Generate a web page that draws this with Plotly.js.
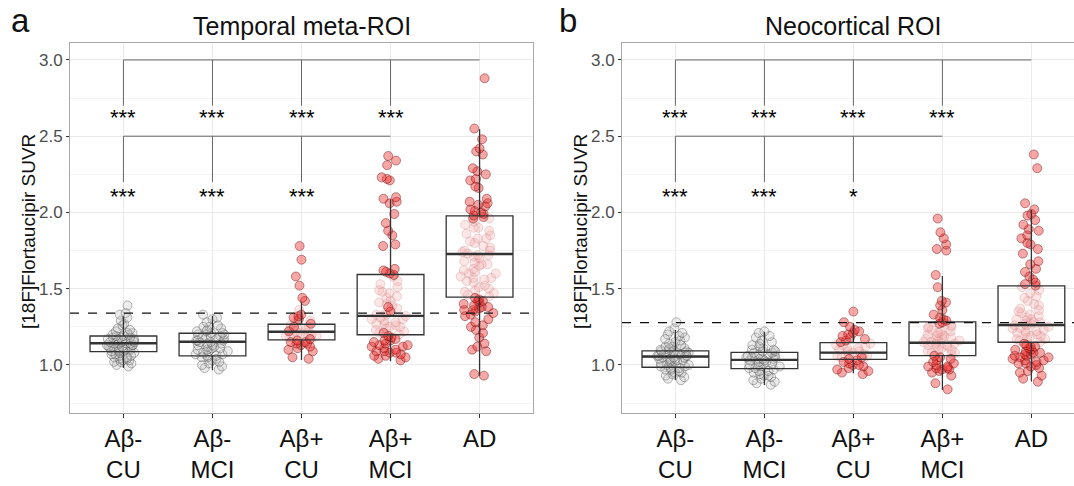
<!DOCTYPE html>
<html>
<head>
<meta charset="utf-8">
<script src="https://cdn.plot.ly/plotly-3.0.1.min.js"></script>
<style>html,body{margin:0;padding:0;background:#fff;}#chart{width:1074px;height:486px;}</style>
</head>
<body>
<div id="chart"></div>
<script>
// ---------- categories / tick labels ----------
const categories = [1, 2, 3, 4, 5];
const tickLabels = ['Aβ-<br>CU', 'Aβ-<br>MCI', 'Aβ+<br>CU', 'Aβ+<br>MCI', 'AD'];
const panelTitles = ['Temporal meta-ROI', 'Neocortical ROI'];
const panelLetters = ['a', 'b'];
const yTitle = '[18F]Flortaucipir SUVR';
const yTicks = [1.0, 1.5, 2.0, 2.5, 3.0];

// ---------- Temporal meta-ROI: box statistics ----------
const tQ1  = [1.088, 1.060, 1.165, 1.198, 1.445];
const tMed = [1.142, 1.152, 1.218, 1.322, 1.728];
const tQ3  = [1.190, 1.208, 1.267, 1.593, 1.977];
const tLo  = [0.980, 0.965, 1.033, 1.025, 0.930];
const tHi  = [1.317, 1.321, 1.409, 2.086, 2.545];
const tCutoff = 1.34;

// ---------- Temporal meta-ROI: individual points ----------
const tCUneg = [1.39,1.34,1.31,1.33,1.27,1.29,1.24,1.26,1.22,1.21,1.23,1.20,1.19,1.18,1.21,1.17,1.19,1.16,1.18,1.15,1.17,1.14,1.16,1.13,1.15,1.12,1.14,1.13,1.11,1.15,1.12,1.10,1.14,1.09,1.13,1.11,1.10,1.08,1.12,1.09,1.07,1.11,1.06,1.10,1.05,1.08,1.04,1.09,1.03,1.07,1.02,1.05,1.01,1.04,1.00,1.03,0.99,1.06,1.02,1.16,1.18,1.20,1.14,1.12,1.17];
const tMCIneg = [1.33,1.31,1.30,1.28,1.26,1.25,1.24,1.23,1.22,1.21,1.22,1.20,1.19,1.21,1.18,1.17,1.19,1.16,1.15,1.17,1.14,1.16,1.13,1.15,1.12,1.18,1.11,1.14,1.10,1.13,1.09,1.12,1.08,1.07,1.10,1.06,1.05,1.07,1.04,1.06,1.03,1.05,1.02,1.01,1.00,0.99,0.98,0.97,1.20,1.16,1.11,1.09,1.25];
const tCUposStrong = [1.78,1.69,1.58,1.52,1.44,1.42,1.33,1.32,1.30,1.31,1.27,1.25,1.22,1.17,1.15,1.14,1.13,1.16,1.12,1.11,1.10,1.09,1.05,1.04,1.15,1.14];
const tCUposLight = [1.36,1.29,1.26,1.24,1.23,1.22,1.21,1.20,1.19,1.21,1.18,1.20,1.17,1.19,1.25,1.23,1.28];
const tMCIposStrong = [2.37,2.34,2.31,2.22,2.23,2.21,2.10,2.09,2.07,2.06,1.99,1.93,1.88,1.85,1.79,1.78,1.63,1.62,1.60,1.61,1.59,1.19,1.18,1.17,1.16,1.15,1.14,1.13,1.12,1.11,1.10,1.09,1.08,1.07,1.06,1.05,1.04,1.03,1.16,1.12,1.09,1.06,1.08,1.13,1.21,1.35,1.38];
const tMCIposLight = [1.58,1.55,1.53,1.51,1.49,1.47,1.45,1.44,1.42,1.40,1.39,1.37,1.36,1.34,1.33,1.32,1.31,1.30,1.29,1.28,1.27,1.26,1.25,1.24,1.23,1.22,1.21,1.20,1.30,1.27,1.33,1.41,1.48,1.25];
const tADStrong = [2.88,2.55,2.48,2.42,2.40,2.38,2.29,2.27,2.25,2.22,2.21,2.17,2.16,2.09,2.07,2.06,2.05,2.04,2.02,2.01,2.00,1.99,1.98,1.97,1.96,1.44,1.43,1.42,1.41,1.40,1.39,1.38,1.37,1.36,1.35,1.34,1.33,1.32,1.30,1.28,1.26,1.25,1.23,1.21,1.18,1.14,1.12,1.10,1.09,0.93,0.94,1.36,1.38,1.42];
const tADLight = [1.96,1.94,1.92,1.90,1.88,1.86,1.85,1.83,1.81,1.80,1.78,1.77,1.75,1.74,1.73,1.72,1.71,1.70,1.68,1.67,1.66,1.65,1.63,1.62,1.61,1.60,1.58,1.57,1.56,1.55,1.54,1.52,1.51,1.50,1.49,1.48,1.47,1.46,1.45,1.60,1.72,1.83,1.57,1.66,1.75,1.90];

// ---------- Neocortical ROI: box statistics ----------
const nQ1  = [0.985, 0.976, 1.037, 1.061, 1.149];
const nMed = [1.055, 1.033, 1.081, 1.146, 1.262];
const nQ3  = [1.092, 1.083, 1.146, 1.282, 1.518];
const nLo  = [0.902, 0.869, 0.946, 0.835, 0.891];
const nHi  = [1.230, 1.218, 1.273, 1.584, 2.016];
const nCutoff = 1.277;

// ---------- Neocortical ROI: individual points ----------
const nCUneg = [1.28,1.24,1.22,1.21,1.19,1.17,1.16,1.14,1.13,1.12,1.11,1.10,1.09,1.10,1.08,1.09,1.07,1.08,1.06,1.07,1.05,1.06,1.04,1.05,1.03,1.06,1.02,1.04,1.01,1.05,1.00,1.03,0.99,1.02,0.98,1.07,0.97,1.01,0.96,1.00,0.95,0.99,0.94,0.93,0.92,0.91,0.90,0.97,1.08,1.06,1.04,1.09,1.15,1.12,1.03,0.98,0.95,1.11,1.18,1.20];
const nMCIneg = [1.22,1.21,1.19,1.18,1.16,1.15,1.13,1.12,1.11,1.10,1.09,1.08,1.07,1.08,1.06,1.05,1.07,1.04,1.03,1.05,1.02,1.04,1.01,1.03,1.00,0.99,1.02,0.98,0.97,1.01,0.96,0.95,0.99,0.94,0.93,0.92,0.91,0.90,0.89,0.88,0.87,1.06,1.04,1.00,0.98,0.96,1.10,1.14,1.09,1.05,0.93];
const nCUposStrong = [1.35,1.28,1.25,1.23,1.22,1.20,1.19,1.18,1.17,1.16,1.02,1.01,1.00,0.99,0.98,0.97,0.96,0.95,0.94,1.03,1.00,1.04,1.05,1.15,1.21];
const nCUposLight = [1.14,1.13,1.12,1.11,1.10,1.09,1.08,1.07,1.06,1.05,1.09,1.11,1.07,1.13,1.04,1.06];
const nMCIposStrong = [1.96,1.87,1.83,1.79,1.76,1.75,1.59,1.51,1.42,1.41,1.39,1.36,1.33,1.31,1.30,1.29,1.28,1.27,1.06,1.05,1.04,1.02,1.00,0.99,0.99,0.98,0.97,0.97,0.96,0.95,0.93,0.88,0.84,1.03,1.01,0.98];
const nMCIposLight = [1.27,1.26,1.25,1.24,1.23,1.22,1.21,1.20,1.19,1.18,1.17,1.16,1.15,1.15,1.14,1.13,1.12,1.11,1.10,1.09,1.08,1.07,1.22,1.18,1.13,1.10,1.25,1.16,1.12,1.20,1.14,1.08,1.19,1.17];
const nADStrong = [2.38,2.29,2.06,2.02,1.99,1.98,1.95,1.92,1.89,1.88,1.85,1.83,1.80,1.79,1.76,1.73,1.68,1.66,1.63,1.61,1.58,1.56,1.54,1.53,1.52,1.14,1.13,1.12,1.11,1.10,1.09,1.08,1.08,1.07,1.06,1.05,1.05,1.04,1.03,1.02,1.01,1.00,0.99,0.98,0.96,0.95,0.93,0.91,0.89,1.07,1.10,1.03,1.12,1.06,1.01];
const nADLight = [1.51,1.49,1.47,1.45,1.44,1.42,1.40,1.39,1.37,1.36,1.34,1.33,1.32,1.31,1.30,1.29,1.28,1.27,1.26,1.25,1.24,1.23,1.22,1.21,1.20,1.19,1.18,1.17,1.16,1.15,1.26,1.22,1.30,1.19,1.24,1.28,1.35,1.21,1.17,1.27];

// ---------- significance brackets ----------
const bracketLevels = [3.0, 2.5];     // horizontal line heights
const bracketDrops  = [2.7, 2.2];     // bottom of the vertical ticks
const starLevels    = [2.655, 2.14];  // star label heights
const tStars = [['***','***','***','***'], ['***','***','***']];
const nStars = [['***','***','***','***'], ['***','***','*']];

// ---------- styling ----------
const BOX_W = 0.75;
const greyMarker   = {size: 9, color: 'rgba(190,190,190,0.28)', line: {color: 'rgba(80,80,80,0.42)', width: 1}};
const strongMarker = {size: 9, color: 'rgba(238,45,45,0.42)',  line: {color: 'rgba(110,10,10,0.45)', width: 1}};
const lightMarker  = {size: 9, color: 'rgba(245,165,165,0.28)', line: {color: 'rgba(205,130,130,0.32)', width: 1}};

const traces = [];
const shapes = [];
const annotations = [];

function pointTrace(vals, pos, marker, xa, ya) {
  return {type: 'box', y: vals, x0: pos, xaxis: xa, yaxis: ya, width: BOX_W,
    boxpoints: 'all', jitter: 0.58, pointpos: 0, marker: marker,
    line: {width: 0, color: 'rgba(0,0,0,0)'}, fillcolor: 'rgba(0,0,0,0)',
    showlegend: false, hoverinfo: 'y'};
}

function buildPanel(xa, ya, groups, q1, med, q3, lo, hi) {
  groups.forEach((g, i) => {
    g.forEach(([vals, marker]) => traces.push(pointTrace(vals, categories[i], marker, xa, ya)));
  });
  traces.push({type: 'box', x: categories, q1: q1, median: med, q3: q3,
    lowerfence: lo, upperfence: hi, xaxis: xa, yaxis: ya, width: BOX_W,
    boxpoints: false, whiskerwidth: 0, fillcolor: 'rgba(0,0,0,0)',
    line: {color: '#333333', width: 1.3}, showlegend: false, hoverinfo: 'skip'});
  // thicker median bars (ggplot style)
  med.forEach((m, i) => shapes.push({type: 'line', xref: xa, yref: ya,
    x0: categories[i] - BOX_W / 2, x1: categories[i] + BOX_W / 2, y0: m, y1: m,
    line: {color: '#333333', width: 2.4}, layer: 'above'}));
}

buildPanel('x', 'y', [
  [[tCUneg, greyMarker]],
  [[tMCIneg, greyMarker]],
  [[tCUposLight, lightMarker], [tCUposStrong, strongMarker]],
  [[tMCIposLight, lightMarker], [tMCIposStrong, strongMarker]],
  [[tADLight, lightMarker], [tADStrong, strongMarker]]
], tQ1, tMed, tQ3, tLo, tHi);

buildPanel('x2', 'y2', [
  [[nCUneg, greyMarker]],
  [[nMCIneg, greyMarker]],
  [[nCUposLight, lightMarker], [nCUposStrong, strongMarker]],
  [[nMCIposLight, lightMarker], [nMCIposStrong, strongMarker]],
  [[nADLight, lightMarker], [nADStrong, strongMarker]]
], nQ1, nMed, nQ3, nLo, nHi);

function addBrackets(xa, ya, stars) {
  const bl = {color: '#666666', width: 1};
  stars.forEach((row, level) => {
    const last = categories[row.length];
    shapes.push({type: 'line', xref: xa, yref: ya, x0: categories[0], x1: last,
      y0: bracketLevels[level], y1: bracketLevels[level], line: bl});
    row.forEach((s, i) => {
      shapes.push({type: 'line', xref: xa, yref: ya, x0: categories[i], x1: categories[i],
        y0: bracketLevels[level], y1: bracketDrops[level], line: bl});
      annotations.push({xref: xa, yref: ya, x: categories[i], y: starLevels[level], text: s,
        showarrow: false, yanchor: 'middle', yshift: -5,
        font: {family: 'Liberation Sans, Arial, sans-serif', size: 22, color: '#000'}});
    });
  });
}
addBrackets('x', 'y', tStars);
addBrackets('x2', 'y2', nStars);

// threshold dashed lines
shapes.push({type: 'line', xref: 'x domain', yref: 'y', x0: 0, x1: 1, y0: tCutoff, y1: tCutoff,
  line: {color: '#111', width: 1.3, dash: 'dash'}, layer: 'above'});
shapes.push({type: 'line', xref: 'x2 domain', yref: 'y2', x0: 0, x1: 1, y0: nCutoff, y1: nCutoff,
  line: {color: '#111', width: 1.3, dash: 'dash'}, layer: 'above'});

// titles & labels
const W = 1074, H = 486;
const px = v => v / W, py = v => 1 - v / H;
const FONT = 'Liberation Sans, Arial, Helvetica, sans-serif';
annotations.push({xref: 'paper', yref: 'paper', x: px(302), y: py(26), text: panelTitles[0],
  showarrow: false, xanchor: 'center', yanchor: 'middle', font: {family: FONT, size: 25, color: '#111'}});
annotations.push({xref: 'paper', yref: 'paper', x: px(853), y: py(26), text: panelTitles[1],
  showarrow: false, xanchor: 'center', yanchor: 'middle', font: {family: FONT, size: 25, color: '#111'}});
annotations.push({xref: 'paper', yref: 'paper', x: px(20), y: py(21), text: panelLetters[0],
  showarrow: false, xanchor: 'center', yanchor: 'middle', font: {family: FONT, size: 33, color: '#111'}});
annotations.push({xref: 'paper', yref: 'paper', x: px(568), y: py(21), text: panelLetters[1],
  showarrow: false, xanchor: 'center', yanchor: 'middle', font: {family: FONT, size: 33, color: '#111'}});
annotations.push({xref: 'paper', yref: 'paper', x: px(28), y: py(232), text: yTitle, textangle: -90,
  showarrow: false, xanchor: 'center', yanchor: 'middle', font: {family: FONT, size: 19, color: '#111'}});
annotations.push({xref: 'paper', yref: 'paper', x: px(580), y: py(232), text: yTitle, textangle: -90,
  showarrow: false, xanchor: 'center', yanchor: 'middle', font: {family: FONT, size: 19, color: '#111'}});

const yDomain = [1 - 413 / H, 1 - 43 / H];
const yRange = [0.685, 3.111];
function xAxis(domain, range, anchor) {
  return {domain: domain, range: range, anchor: anchor, tickvals: categories, ticktext: tickLabels,
    ticks: 'outside', ticklen: 4, tickcolor: '#333', showgrid: true, gridcolor: '#ebebeb',
    zeroline: false, showline: true, mirror: true, linecolor: '#a8a8a8', linewidth: 1,
    tickfont: {family: FONT, size: 24, color: '#111'}, fixedrange: true};
}
function yAxis(anchor) {
  return {domain: yDomain, range: yRange, anchor: anchor, tickvals: yTicks, tickformat: '.1f',
    ticks: 'outside', ticklen: 3, tickcolor: '#333', showgrid: true, gridcolor: '#ebebeb',
    minor: {dtick: 0.25, tick0: 0.25, showgrid: true, gridcolor: '#f4f4f4', ticks: ''},
    zeroline: false, showline: true, mirror: true, linecolor: '#a8a8a8', linewidth: 1,
    tickfont: {family: FONT, size: 17, color: '#4d4d4d'}, fixedrange: true};
}

const layout = {
  width: W, height: H, margin: {l: 0, r: 0, t: 0, b: 0},
  paper_bgcolor: '#ffffff', plot_bgcolor: '#ffffff', showlegend: false,
  boxmode: 'overlay',
  xaxis: xAxis([70 / W, 533 / W], [0.4, 5.6], 'y'),
  yaxis: yAxis('x'),
  xaxis2: xAxis([622 / W, 1], [0.4, 0.4 + (W - 622) / 89], 'y2'),
  yaxis2: yAxis('x2'),
  shapes: shapes, annotations: annotations,
  font: {family: FONT}
};

Plotly.newPlot('chart', traces, layout, {displayModeBar: false, staticPlot: true});
</script>
</body>
</html>
